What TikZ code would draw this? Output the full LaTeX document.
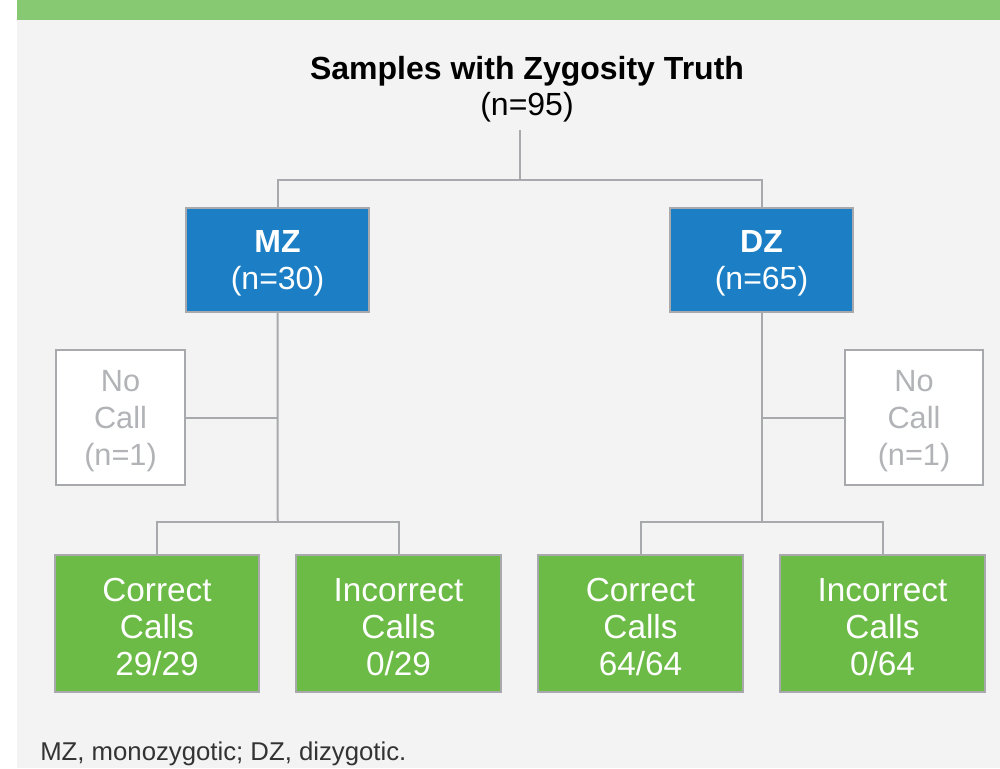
\documentclass[tikz,border=0pt]{standalone}
\usepackage{fontspec}
\setmainfont{Liberation Sans}
\definecolor{bgc}{HTML}{F3F3F3}
\definecolor{barc}{HTML}{87C873}
\definecolor{bluec}{HTML}{1C7FC5}
\definecolor{greenc}{HTML}{6BBB46}
\definecolor{linec}{HTML}{A7A9AC}
\definecolor{ncc}{HTML}{B1B3B6}
\definecolor{footc}{HTML}{333333}
\newcommand\mystrut[1]{\rule{0pt}{#1}}
\begin{document}
\begin{tikzpicture}[x=0.75pt,y=-0.75pt,
  conn/.style={draw=linec,line width=1.5pt},
  bluebox/.style={draw=linec,line width=1.5pt,fill=bluec,text=white,align=center,
    minimum width=137.25pt,minimum height=78pt,inner sep=0pt,
    font=\fontsize{24}{27.75}\selectfont},
  ncbox/.style={draw=linec,line width=1.5pt,fill=white,text=ncc,align=center,
    minimum height=101.25pt,inner sep=0pt,
    font=\fontsize{23}{27.75}\selectfont},
  greenbox/.style={draw=linec,line width=1.5pt,fill=greenc,text=white,align=center,
    minimum width=153.5pt,minimum height=102.75pt,inner sep=0pt,
    font=\fontsize{25}{27.75}\selectfont}]
\useasboundingbox (0,0) rectangle (1000,768);
\fill[white] (0,0) rectangle (1000,768);
\fill[bgc] (17,20) rectangle (1000,768);
\fill[barc] (17,0) rectangle (1000,20);

\node[align=center,font=\fontsize{24}{27}\selectfont,text=black] (title) at (527,89)
  {\textbf{Samples with Zygosity Truth}\\(n=95)};
\coordinate (t0) at (520,130);
\coordinate (t1) at (520,180);

\node[bluebox] (mz) at (277.5,260) {\mystrut{21.8pt}\textbf{MZ}\\(n=30)};
\node[bluebox] (dz) at (761.5,260) {\mystrut{21.8pt}\textbf{DZ}\\(n=65)};

\node[ncbox,minimum width=96.75pt] (ncl) at (120.5,417.5) {\mystrut{21.1pt}No\\Call\\(n=1)};
\node[ncbox,minimum width=103.5pt] (ncr) at (914,417.5) {\mystrut{21.1pt}No\\Call\\(n=1)};

\node[greenbox] (ccl) at (157,623.5) {\mystrut{22.5pt}Correct\\Calls\\29/29};
\node[greenbox] (icl) at (398.5,623.5) {\mystrut{22.5pt}Incorrect\\Calls\\0/29};
\node[greenbox] (ccr) at (640.5,623.5) {\mystrut{22.5pt}Correct\\Calls\\64/64};
\node[greenbox] (icr) at (882.5,623.5) {\mystrut{22.5pt}Incorrect\\Calls\\0/64};

\coordinate (m1) at (277.75,522);
\coordinate (d1) at (761.5,522);

\draw[conn] (t0) -- (t1);
\draw[conn] (mz.north) |- (t1) -| (dz.north);
\draw[conn] (mz.south) -- (m1);
\draw[conn] (dz.south) -- (d1);
\draw[conn] (ncl.east) -- (ncl.east -| mz.south);
\draw[conn] (ncr.west) -- (ncr.west -| dz.south);
\draw[conn] (ccl.north) |- (m1) -| (icl.north);
\draw[conn] (ccr.north) |- (d1) -| (icr.north);

\node[anchor=west,inner sep=0pt,text=footc,font=\fontsize{19.3}{22}\selectfont] (foot) at (40,754)
  {MZ, monozygotic; DZ, dizygotic.};
\end{tikzpicture}
\end{document}
